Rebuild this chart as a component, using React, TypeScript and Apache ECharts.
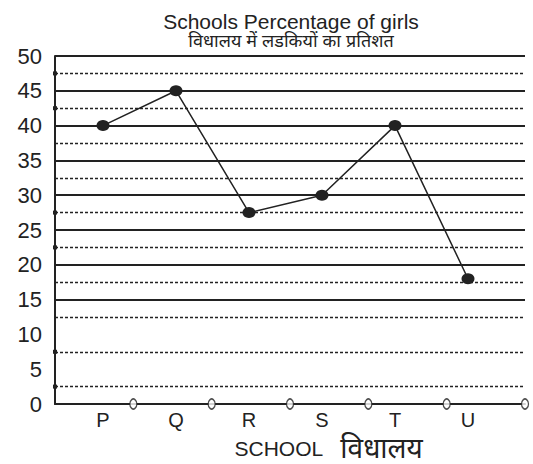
import React, { useEffect, useRef } from "react";
import * as echarts from "echarts";

const categories = ["P", "Q", "R", "S", "T", "U"];
const girlsPercent = [40, 45, 27.5, 30, 40, 18];
const yTicks = { min: 0, max: 50, step: 5 };
const solidLevels = [15, 20, 25, 30, 35, 40, 45, 50];
const dottedLevels = [2.5, 7.5, 12.5, 17.5, 22.5, 27.5, 32.5, 37.5, 42.5, 47.5];
const squareEndLevels = [2.5, 7.5, 22.5, 27.5, 42.5, 47.5];
const boundaryTicks = ["", "b1", "b2", "b3", "b4", "b5", "b6"];
const boundaryIdx = [1, 2, 3, 4, 5, 6];

const FONT = "Liberation Sans, Arial, Noto Sans, sans-serif";
const INK = "#222";

export default function App() {
  const ref = useRef<HTMLDivElement>(null);
  useEffect(() => {
    if (!ref.current) return;
    const chart = echarts.init(ref.current, null, { renderer: "svg" });
    const markData: any[] = [];
    solidLevels.forEach((v) =>
      markData.push({ yAxis: v, lineStyle: { type: "solid", width: 2, color: INK }, symbol: "none" })
    );
    dottedLevels.forEach((v) =>
      markData.push({
        yAxis: v,
        lineStyle: { type: [3, 2], width: 1.3, color: INK },
        symbol: squareEndLevels.includes(v) ? ["none", "rect"] : "none",
        symbolSize: 4,
      })
    );
    chart.setOption({
      animation: false,
      title: {
        text: "Schools Percentage of girls",
        subtext: "विधालय में लडकियों का प्रतिशत",
        left: 286,
        textAlign: "center",
        top: 6,
        itemGap: 0,
        textStyle: { fontFamily: FONT, fontSize: 21, fontWeight: "normal", color: INK },
        subtextStyle: { fontFamily: FONT, fontSize: 18, color: INK },
      },
      grid: [
        { left: 55, right: 8, top: 56, bottom: 60, containLabel: false, outerBoundsMode: "none" },
        { left: 66.5, right: 28.5, top: 56, bottom: 60, containLabel: false, outerBoundsMode: "none" },
      ],
      xAxis: [
        {
          gridIndex: 0,
          type: "category",
          data: boundaryTicks,
          boundaryGap: false,
          axisLine: { lineStyle: { color: INK, width: 2 } },
          axisTick: { show: false },
          axisLabel: { show: false },
        },
        {
          gridIndex: 1,
          type: "category",
          data: categories,
          boundaryGap: true,
          axisLine: { show: false },
          axisTick: { show: false },
          axisLabel: { fontFamily: FONT, fontSize: 20, color: INK, margin: 6 },
          name: "SCHOOL   {h|विधालय}",
          nameLocation: "middle",
          nameGap: 28,
          nameTextStyle: {
            fontFamily: FONT,
            fontSize: 21,
            color: INK,
            lineHeight: 28,
            padding: [0, 0, 0, 86],
            rich: { h: { fontSize: 28, lineHeight: 28, color: INK, fontFamily: FONT } },
          },
        },
      ],
      yAxis: [
        {
          gridIndex: 0,
          type: "value",
          min: yTicks.min,
          max: yTicks.max,
          interval: yTicks.step,
          axisLine: { show: true, lineStyle: { color: INK, width: 2 } },
          axisTick: { show: false },
          splitLine: { show: false },
          axisLabel: { fontFamily: FONT, fontSize: 22, color: INK, margin: 13 },
        },
        {
          gridIndex: 1,
          type: "value",
          min: yTicks.min,
          max: yTicks.max,
          interval: yTicks.step,
          show: false,
          splitLine: { show: false },
        },
      ],
      series: [
        {
          type: "scatter",
          xAxisIndex: 0,
          yAxisIndex: 0,
          data: boundaryIdx.map((i) => [i, 0]),
          symbol: "circle",
          symbolSize: [7, 10],
          itemStyle: { color: "#fff", borderColor: INK, borderWidth: 1.5 },
          z: 6,
          markLine: {
            silent: true,
            symbol: "none",
            label: { show: false },
            data: markData,
          },
        },
        {
          type: "line",
          xAxisIndex: 1,
          yAxisIndex: 1,
          data: girlsPercent,
          symbol: "circle",
          symbolSize: [13, 11],
          lineStyle: { color: INK, width: 1.5 },
          itemStyle: { color: INK },
          z: 5,
        },
      ],
    });
    return () => chart.dispose();
  }, []);
  return (
    <div
      ref={ref}
      style={{ position: "fixed", left: 0, top: 0, width: 533, height: 464, background: "#fff" }}
    />
  );
}
